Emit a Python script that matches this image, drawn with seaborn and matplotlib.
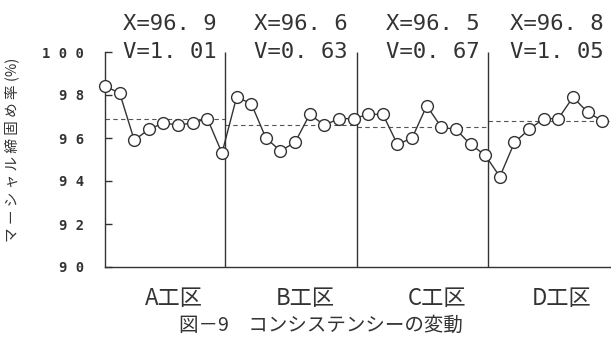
import matplotlib
matplotlib.use("Agg")
import matplotlib.pyplot as plt
import seaborn as sns
import pandas as pd
import numpy as np

# Marshall compaction ratio (%) per sample, by construction section
sections = ["A工区", "B工区", "C工区", "D工区"]
rate_a = [98.4, 98.1, 95.9, 96.4, 96.7, 96.6, 96.7, 96.9, 95.3]
rate_b = [97.9, 97.6, 96.0, 95.4, 95.8, 97.1, 96.6, 96.9, 96.9]
rate_c = [97.1, 97.1, 95.7, 96.0, 97.5, 96.5, 96.4, 95.7, 95.2]
rate_d = [94.2, 95.8, 96.4, 96.9, 96.9, 97.9, 97.2, 96.8]
means = [96.9, 96.6, 96.5, 96.8]      # X: section mean
cvs = [1.01, 0.63, 0.67, 1.05]        # V: coefficient of variation
y_ticks = [90, 92, 94, 96, 98, 100]

groups = [rate_a, rate_b, rate_c, rate_d]
rows = []
k = 0
for name, vals in zip(sections, groups):
    for v in vals:
        rows.append({"sample": k, "section": name, "rate": v})
        k += 1
df = pd.DataFrame(rows)

sns.set_theme(style="white")
plt.rcParams["font.family"] = ["Noto Sans CJK JP", "DejaVu Sans"]
ink = "#333333"

W, H = 611, 348
fig = plt.figure(figsize=(W / 100, H / 100), dpi=100)
ax = fig.add_axes([105 / W, 81 / H, 506 / W, 215 / H])

sns.lineplot(data=df, x="sample", y="rate", ax=ax, sort=False,
             color=ink, lw=1.0, marker="o", markersize=8.5,
             markerfacecolor="white", markeredgecolor=ink,
             markeredgewidth=1.0, clip_on=False, zorder=3)

ax.set_xlim(0, 34.6)
ax.set_ylim(90, 100)

# section boundaries and dividers
counts = [len(g) for g in groups]
ends = np.cumsum(counts)
bounds = [e - 0.8 for e in ends[:-1]]
lefts = [0] + bounds
rights = bounds + [34.6]
ax.vlines(bounds, 90, 100, color=ink, lw=1.0, zorder=2)

for i, (l, r) in enumerate(zip(lefts, rights)):
    ax.hlines(means[i], l, r, color="#555555", lw=0.8,
              linestyles=(0, (4, 3)), zorder=1)
    start = ends[i] - counts[i]
    cx = (start + ends[i] - 1) / 2 + 0.4
    ax.text(cx, 101.3, f"X={means[i]:.1f}".replace(".", ". "),
            ha="center", va="center", fontsize=16, color=ink,
            family="DejaVu Sans Mono")
    ax.text(cx, 100.0, f"V={cvs[i]:.2f}".replace(".", ". "),
            ha="center", va="center", fontsize=16, color=ink,
            family="DejaVu Sans Mono")
    ax.text(cx + 0.3, 88.55, sections[i], ha="center", va="center",
            fontsize=16, color=ink)

for s in ["top", "right"]:
    ax.spines[s].set_visible(False)
for s in ["left", "bottom"]:
    ax.spines[s].set_color(ink)
    ax.spines[s].set_linewidth(1.0)

ax.set_xticks([])
ax.set_yticks(y_ticks)
ax.set_yticklabels([" ".join(str(t)) for t in y_ticks],
                   family="DejaVu Sans Mono", fontweight="bold",
                   fontsize=10, color=ink)
ax.tick_params(axis="y", direction="in", length=5, width=1.0,
               color=ink, pad=15, left=True)
ax.set_xlabel("")
ax.set_ylabel("")

fig.text(12 / W, 1 - 150 / H, "マ ー シ ャ ル 締 固 め 率 (%)",
         rotation=90, ha="center", va="center", fontsize=10.5, color=ink)

fig.text(321 / W, 23 / H, "図－9　コンシステンシーの変動",
         ha="center", va="center", fontsize=14, color=ink)

fig.savefig("out.png", dpi=100, facecolor="white")
